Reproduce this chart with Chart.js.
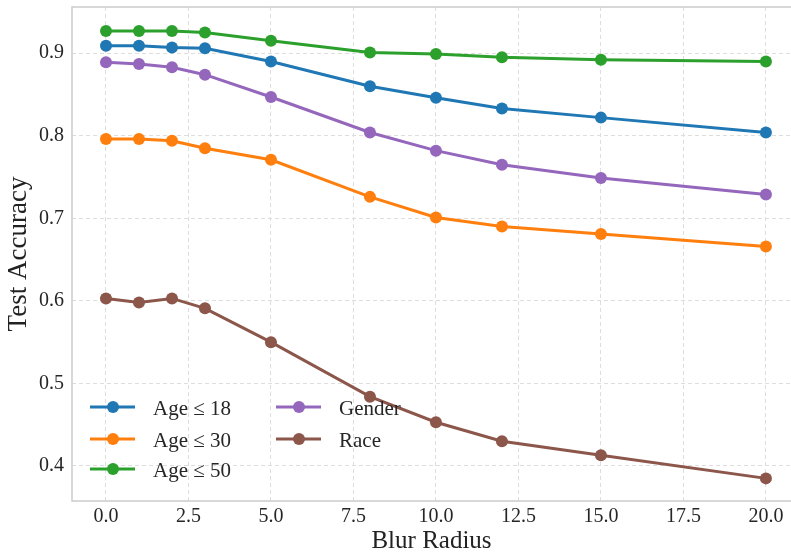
<!DOCTYPE html>
<html>
<head>
<meta charset="utf-8">
<script src="https://cdn.jsdelivr.net/npm/chart.js@4/dist/chart.umd.min.js"></script>
<style>
  html, body { margin: 0; padding: 0; background: #ffffff; }
  #wrap { width: 791px; height: 555px; position: relative; }
</style>
</head>
<body>
<div id="wrap"><canvas id="c" width="791" height="555"></canvas></div>
<script>
// ---- data ----
const blurRadius = [0, 1, 2, 3, 5, 8, 10, 12, 15, 20];
const seriesNames = ['Age \u2264 18', 'Age \u2264 30', 'Age \u2264 50', 'Gender', 'Race'];
const age18  = [0.909, 0.909, 0.907, 0.906, 0.890, 0.860, 0.846, 0.833, 0.822, 0.804];
const age30  = [0.796, 0.796, 0.794, 0.785, 0.771, 0.726, 0.701, 0.690, 0.681, 0.666];
const age50  = [0.927, 0.927, 0.927, 0.925, 0.915, 0.901, 0.899, 0.895, 0.892, 0.890];
const gender = [0.889, 0.887, 0.883, 0.874, 0.847, 0.804, 0.782, 0.765, 0.749, 0.729];
const race   = [0.603, 0.598, 0.603, 0.591, 0.550, 0.484, 0.453, 0.430, 0.413, 0.385];
const xTickStep = 2.5;
const yTickStep = 0.1;

const colors = ['#1f77b4', '#ff7f0e', '#2ca02c', '#9467bd', '#8c564b'];
const allSeries = [age18, age30, age50, gender, race];

const FONT = "'Liberation Serif', 'Times New Roman', serif";

const datasets = allSeries.map((vals, i) => ({
  label: seriesNames[i],
  data: blurRadius.map((x, j) => ({ x: x, y: vals[j] })),
  borderColor: colors[i],
  backgroundColor: colors[i],
  borderWidth: 3,
  pointRadius: 6,
  pointHoverRadius: 6,
  pointBorderWidth: 0,
  tension: 0,
  fill: false
}));

const framePlugin = {
  id: 'frame',
  beforeDatasetsDraw(chart) {
    const { ctx, chartArea: a } = chart;
    ctx.save();
    ctx.strokeStyle = '#cccccc';
    ctx.lineWidth = 1.5;
    ctx.beginPath();
    ctx.moveTo(a.right + 5, a.top);
    ctx.lineTo(a.left, a.top);
    ctx.lineTo(a.left, a.bottom);
    ctx.lineTo(a.right + 5, a.bottom);
    ctx.stroke();
    ctx.restore();
  }
};

const legendPlugin = {
  id: 'customLegend',
  afterDraw(chart) {
    const { ctx, chartArea: a } = chart;
    const cols = [[0, 1, 2], [3, 4]];
    const colX = [a.left + 18, a.left + 204];
    const rowY = [a.bottom - 94, a.bottom - 62, a.bottom - 32];
    ctx.save();
    ctx.font = "21px " + FONT;
    ctx.textBaseline = 'middle';
    ctx.textAlign = 'left';
    cols.forEach((col, ci) => {
      col.forEach((di, ri) => {
        const ds = chart.data.datasets[di];
        const x0 = colX[ci];
        const y = rowY[ri];
        ctx.strokeStyle = ds.borderColor;
        ctx.lineWidth = 3;
        ctx.beginPath();
        ctx.moveTo(x0, y);
        ctx.lineTo(x0 + 45, y);
        ctx.stroke();
        ctx.fillStyle = ds.borderColor;
        ctx.beginPath();
        ctx.arc(x0 + 23, y, 6, 0, Math.PI * 2);
        ctx.fill();
        ctx.fillStyle = '#262626';
        ctx.fillText(ds.label, x0 + 63, y + 2);
      });
    });
    ctx.restore();
  }
};

new Chart(document.getElementById('c'), {
  type: 'line',
  data: { datasets: datasets },
  options: {
    responsive: false,
    animation: false,
    devicePixelRatio: 1,
    layout: { autoPadding: false, padding: { top: 7, right: 0, left: 0, bottom: 0 } },
    plugins: {
      legend: { display: false },
      tooltip: { enabled: false }
    },
    scales: {
      x: {
        type: 'linear',
        min: -1.03,
        max: 20.76,
        afterFit(scale) {
          scale.height = 54;
          scale.paddingLeft = 0;
          scale.paddingRight = 0;
        },
        ticks: {
          stepSize: xTickStep,
          includeBounds: false,
          autoSkip: false,
          maxRotation: 0,
          padding: 4,
          color: '#262626',
          font: { family: FONT, size: 20 },
          callback: v => Number(v).toFixed(1)
        },
        grid: { color: '#dddddd', lineWidth: 1, drawTicks: false },
        border: { display: false, dash: [4, 3] },
        title: {
          display: true,
          text: 'Blur Radius',
          color: '#222222',
          font: { family: FONT, size: 25 },
          padding: { top: 0, bottom: -1 }
        }
      },
      y: {
        type: 'linear',
        min: 0.3576,
        max: 0.956,
        afterFit(scale) {
          scale.width = 72;
          scale.paddingTop = 0;
          scale.paddingBottom = 0;
        },
        ticks: {
          stepSize: yTickStep,
          includeBounds: false,
          padding: 8,
          color: '#262626',
          font: { family: FONT, size: 20 },
          callback: v => Number(v).toFixed(1)
        },
        grid: { color: '#dddddd', lineWidth: 1, drawTicks: false },
        border: { display: false, dash: [4, 3] },
        title: {
          display: true,
          text: 'Test Accuracy',
          color: '#222222',
          font: { family: FONT, size: 27 },
          padding: { top: 3, bottom: 0 }
        }
      }
    }
  },
  plugins: [framePlugin, legendPlugin]
});
</script>
</body>
</html>
